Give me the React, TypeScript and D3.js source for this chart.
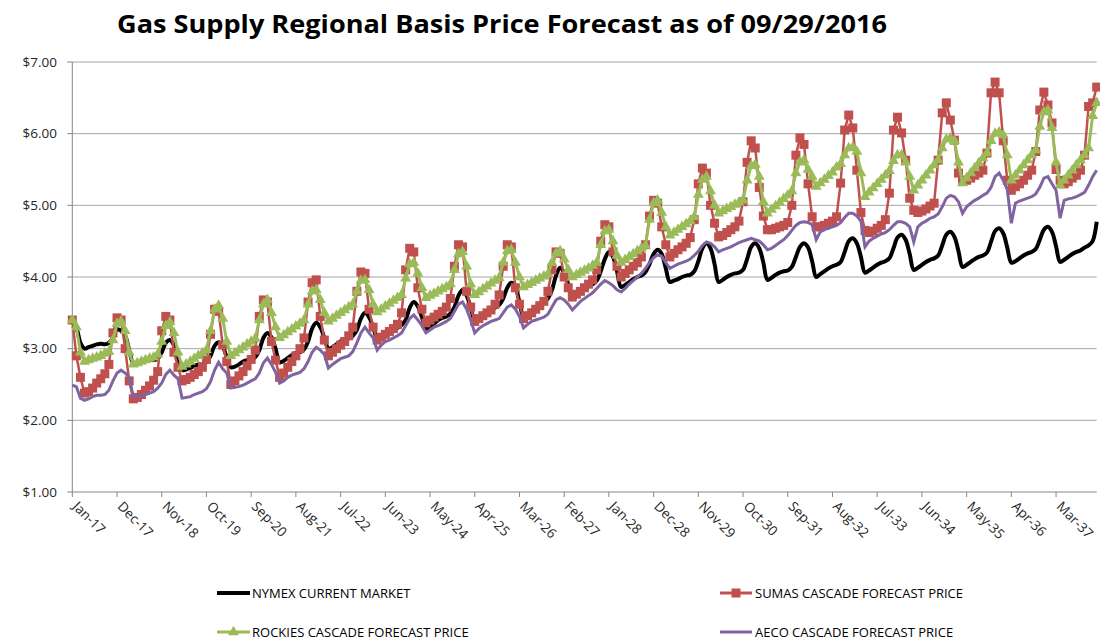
import * as d3 from "d3";

const WIDTH = 1100;
const HEIGHT = 644;
const PLOT = { left: 72.3, right: 1096.7, top: 62, bottom: 492 };

// monthly categories Jan-17 .. Jan-38, labelled every 11th month
const months = d3.timeMonth.range(new Date(2017, 0, 1), new Date(2038, 1, 1));
const LABEL_EVERY = 11;
const yTicks = [1, 2, 3, 4, 5, 6, 7];

// NYMEX current market, one row per year (Jan..Dec)
const nymex = [
  3.32, 3.28, 3.08, 3.0, 3.02, 3.04, 3.06, 3.07, 3.06, 3.08, 3.15, 3.27,
  3.25, 3.18, 2.98, 2.8, 2.8, 2.82, 2.84, 2.85, 2.84, 2.86, 2.95, 3.08,
  3.12, 3.05, 2.88, 2.7, 2.71, 2.73, 2.76, 2.78, 2.78, 2.81, 2.9, 3.04,
  3.09, 3.03, 2.88, 2.74, 2.75, 2.78, 2.82, 2.84, 2.84, 2.88, 2.98, 3.15,
  3.22, 3.16, 3.0, 2.81, 2.83, 2.87, 2.91, 2.94, 2.95, 2.99, 3.1, 3.28,
  3.36, 3.3, 3.15, 3.0, 3.02, 3.06, 3.1, 3.13, 3.14, 3.18, 3.26, 3.42,
  3.5, 3.44, 3.3, 3.15, 3.17, 3.21, 3.25, 3.28, 3.29, 3.33, 3.4, 3.57,
  3.65, 3.59, 3.44, 3.28, 3.31, 3.35, 3.4, 3.43, 3.45, 3.49, 3.58, 3.74,
  3.82, 3.74, 3.58, 3.4, 3.43, 3.47, 3.52, 3.55, 3.57, 3.61, 3.7, 3.85,
  3.92, 3.86, 3.65, 3.45, 3.48, 3.53, 3.58, 3.62, 3.65, 3.7, 3.82, 4.02,
  4.13, 4.06, 3.9, 3.72, 3.75, 3.8, 3.85, 3.88, 3.9, 3.95, 4.08, 4.25,
  4.35, 4.28, 4.08, 3.86, 3.89, 3.93, 3.97, 4.0, 4.02, 4.07, 4.18, 4.32,
  4.38, 4.32, 4.12, 3.93, 3.95, 3.97, 4.0, 4.02, 4.03, 4.08, 4.22, 4.4,
  4.47, 4.4, 4.18, 3.93, 3.96, 4.0, 4.03, 4.05, 4.06, 4.1, 4.25, 4.42,
  4.47, 4.4, 4.2, 3.96, 3.99, 4.03, 4.06, 4.08, 4.09, 4.14, 4.28, 4.42,
  4.47, 4.41, 4.22, 4.0, 4.04, 4.08, 4.12, 4.15, 4.17, 4.21, 4.35, 4.5,
  4.54, 4.47, 4.28, 4.06, 4.09, 4.13, 4.17, 4.2, 4.22, 4.26, 4.4, 4.55,
  4.59, 4.52, 4.32, 4.1, 4.13, 4.17, 4.21, 4.24, 4.26, 4.3, 4.44, 4.59,
  4.63, 4.56, 4.36, 4.14, 4.17, 4.21, 4.25, 4.28, 4.3, 4.34, 4.49, 4.64,
  4.68, 4.61, 4.41, 4.2, 4.22, 4.26, 4.3, 4.33, 4.35, 4.39, 4.52, 4.66,
  4.7, 4.63, 4.43, 4.21, 4.24, 4.28, 4.32, 4.35, 4.37, 4.41, 4.44, 4.5,
  4.77,
];

// SUMAS cascade forecast price
const sumas = [
  3.4, 2.9, 2.6, 2.38, 2.4, 2.45, 2.52, 2.58, 2.65, 2.78, 3.22, 3.43,
  3.4, 3.0, 2.55, 2.3, 2.32, 2.36, 2.42, 2.48, 2.56, 2.68, 3.25, 3.45,
  3.4, 2.95, 2.74, 2.55, 2.57, 2.6, 2.64, 2.68, 2.74, 2.85, 3.2, 3.55,
  3.52, 3.05, 2.82, 2.5, 2.55, 2.62, 2.68, 2.76, 2.85, 2.98, 3.45, 3.68,
  3.65, 3.1, 2.84, 2.6, 2.66, 2.74, 2.82, 2.9, 3.0, 3.15, 3.65, 3.92,
  3.96, 3.45, 3.12, 2.9, 2.95, 3.0, 3.05, 3.1, 3.18, 3.3, 3.8, 4.07,
  4.05, 3.55, 3.3, 3.12, 3.16, 3.2, 3.24, 3.28, 3.34, 3.5, 4.1, 4.4,
  4.35, 3.85, 3.55, 3.36, 3.4, 3.44, 3.48, 3.52, 3.58, 3.7, 4.15, 4.45,
  4.42, 3.8, 3.58, 3.38, 3.42, 3.46, 3.5, 3.54, 3.62, 3.75, 4.15, 4.45,
  4.42, 3.85, 3.62, 3.42, 3.46, 3.5, 3.55, 3.6, 3.66, 3.8, 4.1, 4.35,
  4.33, 4.0, 3.85, 3.72, 3.76, 3.8, 3.85, 3.9, 3.96, 4.1, 4.5, 4.73,
  4.7, 4.35, 4.15, 4.0, 4.05, 4.1, 4.15, 4.2, 4.28, 4.45, 4.85, 5.07,
  5.03, 4.7, 4.45, 4.28, 4.33, 4.38, 4.42, 4.47, 4.55, 4.8, 5.3, 5.52,
  5.45, 5.0, 4.75, 4.56, 4.58, 4.62, 4.66, 4.7, 4.78, 5.05, 5.6, 5.9,
  5.8, 5.25, 4.85, 4.66, 4.66, 4.68, 4.7, 4.72, 4.76, 5.0, 5.7, 5.94,
  5.85, 5.3, 4.84, 4.7, 4.7, 4.72, 4.75, 4.78, 4.84, 5.31, 6.05, 6.26,
  6.08, 5.49, 4.9, 4.65, 4.62, 4.64, 4.68, 4.72, 4.8, 5.17, 6.05, 6.23,
  6.01, 5.63, 5.1, 4.93, 4.9, 4.92, 4.95, 4.99, 5.03, 5.63, 6.29, 6.43,
  6.19, 5.91, 5.45, 5.35, 5.35, 5.38, 5.42, 5.45, 5.49, 5.73, 6.57, 6.72,
  6.57, 5.9, 5.35, 5.21, 5.26, 5.3, 5.35, 5.42, 5.49, 5.75, 6.33, 6.58,
  6.4, 6.15, 5.5, 5.35, 5.3, 5.33, 5.38, 5.42, 5.49, 5.7, 6.38, 6.43,
  6.65,
];

// ROCKIES cascade forecast price
const rockies = [
  3.4, 3.3, 2.95, 2.82, 2.84, 2.86, 2.88, 2.9, 2.93, 2.96, 3.12, 3.35,
  3.38, 3.25, 2.95, 2.78, 2.8, 2.82, 2.84, 2.86, 2.88, 2.92, 3.1, 3.32,
  3.37, 3.22, 2.95, 2.75, 2.78, 2.82, 2.86, 2.9, 2.94, 2.98, 3.25, 3.55,
  3.6, 3.42, 3.1, 2.9, 2.94, 2.98, 3.02, 3.06, 3.1, 3.14, 3.4, 3.62,
  3.68, 3.5, 3.3, 3.15, 3.19, 3.23, 3.27, 3.31, 3.35, 3.4, 3.62, 3.8,
  3.82, 3.68, 3.5, 3.38, 3.42, 3.46, 3.5, 3.54, 3.58, 3.62, 3.8, 3.95,
  3.96, 3.82, 3.62, 3.51, 3.55, 3.59, 3.63, 3.67, 3.71, 3.75, 3.98, 4.18,
  4.2, 4.05, 3.85, 3.71, 3.74, 3.77, 3.8, 3.83, 3.86, 3.9, 4.1, 4.32,
  4.35, 4.15, 3.9, 3.75, 3.79, 3.83, 3.87, 3.91, 3.95, 3.99, 4.2, 4.36,
  4.38, 4.2, 4.0, 3.86, 3.89, 3.92, 3.95, 3.98, 4.01, 4.04, 4.2, 4.33,
  4.36, 4.25, 4.1, 4.0, 4.03, 4.06, 4.09, 4.12, 4.16, 4.2, 4.45, 4.64,
  4.66, 4.5, 4.3, 4.2, 4.24, 4.28, 4.32, 4.36, 4.4, 4.44, 4.8, 5.03,
  5.07, 4.9, 4.7, 4.58, 4.62, 4.66, 4.7, 4.74, 4.78, 4.84, 5.15, 5.36,
  5.4, 5.2, 5.0, 4.89, 4.92, 4.95, 4.98, 5.01, 5.04, 5.07, 5.35, 5.55,
  5.57, 5.4, 5.05, 4.89, 4.94, 4.99, 5.04, 5.09, 5.14, 5.2, 5.45, 5.6,
  5.63, 5.5, 5.4, 5.26, 5.31, 5.36, 5.41, 5.46, 5.53, 5.58, 5.7, 5.8,
  5.81, 5.75, 5.45, 5.12, 5.18, 5.24, 5.3, 5.36, 5.42, 5.48, 5.62, 5.7,
  5.7, 5.6, 5.4, 5.21, 5.28, 5.35, 5.42, 5.49, 5.56, 5.63, 5.8, 5.92,
  5.94, 5.9, 5.6, 5.31, 5.38, 5.45, 5.52, 5.59, 5.66, 5.73, 5.9, 6.0,
  6.02, 5.98, 5.7, 5.35, 5.42, 5.49, 5.56, 5.63, 5.7, 5.77, 6.1, 6.3,
  6.33, 6.08, 5.6, 5.28, 5.35, 5.42, 5.49, 5.56, 5.63, 5.7, 5.8, 6.25,
  6.43,
];

// AECO cascade forecast price
const aeco = [
  2.49, 2.47, 2.31, 2.28, 2.3, 2.33, 2.35, 2.35, 2.36, 2.42, 2.55, 2.66,
  2.7, 2.66, 2.6, 2.33, 2.33, 2.34, 2.36, 2.38, 2.4, 2.45, 2.52, 2.64,
  2.7, 2.63, 2.58, 2.31, 2.32, 2.33, 2.36, 2.38, 2.4, 2.44, 2.54, 2.7,
  2.81, 2.72, 2.66, 2.45, 2.46, 2.47, 2.49, 2.52, 2.55, 2.58, 2.66, 2.8,
  2.87, 2.78, 2.67, 2.52, 2.55, 2.6, 2.63, 2.65, 2.67, 2.72, 2.82, 2.95,
  3.02, 2.98, 2.92, 2.73, 2.78, 2.82, 2.86, 2.88, 2.9, 2.96, 3.08, 3.22,
  3.3, 3.22, 3.15, 2.98, 3.05, 3.1, 3.12, 3.15, 3.18, 3.22, 3.32, 3.42,
  3.47, 3.4, 3.32, 3.22, 3.26, 3.3, 3.32, 3.35, 3.38, 3.42, 3.52, 3.62,
  3.65, 3.55, 3.4, 3.22, 3.28, 3.32, 3.35, 3.38, 3.4, 3.42, 3.5, 3.58,
  3.61, 3.55, 3.45, 3.29, 3.34, 3.38, 3.4, 3.42, 3.44, 3.48, 3.58, 3.68,
  3.71, 3.68, 3.62, 3.54, 3.6, 3.66, 3.7, 3.74, 3.78, 3.84, 3.9, 3.95,
  3.92, 3.88, 3.82, 3.79, 3.84, 3.9, 3.95, 4.0, 4.05, 4.12, 4.2, 4.27,
  4.31, 4.29, 4.2, 4.12, 4.15, 4.18, 4.2, 4.22, 4.25, 4.3, 4.36, 4.44,
  4.49, 4.47, 4.42, 4.35, 4.38, 4.4, 4.42, 4.45, 4.48, 4.5, 4.52, 4.54,
  4.52, 4.5, 4.45, 4.38, 4.4, 4.44, 4.48, 4.52, 4.58, 4.65, 4.72, 4.76,
  4.77, 4.76, 4.73, 4.52, 4.63, 4.66, 4.68, 4.7, 4.72, 4.76, 4.83, 4.89,
  4.89, 4.85, 4.78, 4.42, 4.5, 4.54, 4.57, 4.6, 4.62, 4.66, 4.72, 4.77,
  4.77, 4.75, 4.7, 4.49, 4.7, 4.75, 4.78, 4.82, 4.84, 4.88, 4.98, 5.1,
  5.14, 5.12, 5.05, 4.89, 4.98, 5.03, 5.07, 5.1, 5.14, 5.17, 5.25, 5.4,
  5.45, 5.35, 5.22, 4.75, 5.03, 5.06, 5.08, 5.1, 5.12, 5.16, 5.25, 5.38,
  5.4, 5.3, 5.21, 4.82, 5.07, 5.09, 5.1, 5.12, 5.15, 5.18, 5.28, 5.4,
  5.49,
];

const FONT = "'Open Sans', 'Liberation Sans', sans-serif";

const App = () => {
  const x = d3.scaleLinear().domain([0, months.length - 1]).range([PLOT.left, PLOT.right]);
  const y = d3.scaleLinear().domain([1, 7]).range([PLOT.bottom, PLOT.top]);
  const fmtMonth = d3.timeFormat("%b-%y");
  const fmtPrice = (v: number) => "$" + d3.format(".2f")(v);

  const line = d3
    .line<number>()
    .x((_, i) => x(i))
    .y((d) => y(d));
  // NYMEX is a smoothed line in the original
  const smooth = d3
    .line<number>()
    .x((_, i) => x(i))
    .y((d) => y(d))
    .curve(d3.curveCatmullRom);

  const tickIdx = d3.range(0, months.length, LABEL_EVERY);
  const tri = d3.symbol(d3.symbolTriangle, 52)() || "";

  return (
    <svg
      width={WIDTH}
      height={HEIGHT}
      style={{ position: "absolute", left: 0, top: 0, background: "#fff" }}
      fontFamily={FONT}
    >
      <text
        x={117}
        y={33}
        fontSize={25}
        fontWeight="bold"
        textLength={770}
        lengthAdjust="spacingAndGlyphs"
        fill="#000"
      >
        Gas Supply Regional Basis Price Forecast as of 09/29/2016
      </text>

      {/* gridlines and y axis */}
      {yTicks.map((t) => (
        <g key={t}>
          {t > 1 && (
            <line x1={PLOT.left} x2={PLOT.right} y1={y(t)} y2={y(t)} stroke="#a6a6a6" strokeWidth={1} />
          )}
          <line x1={PLOT.left - 5} x2={PLOT.left} y1={y(t)} y2={y(t)} stroke="#868686" />
          <text x={57} y={y(t)} dy="0.35em" textAnchor="end" fontSize={13.5} fill="#262626">
            {fmtPrice(t)}
          </text>
        </g>
      ))}
      <line x1={PLOT.left} x2={PLOT.left} y1={PLOT.top} y2={PLOT.bottom} stroke="#868686" />
      <line x1={PLOT.left} x2={PLOT.right} y1={PLOT.bottom} y2={PLOT.bottom} stroke="#868686" />

      {/* x axis ticks and rotated labels */}
      {tickIdx.map((i) => (
        <g key={i}>
          <line x1={x(i)} x2={x(i)} y1={PLOT.bottom} y2={PLOT.bottom + 5} stroke="#868686" />
          <text
            transform={`translate(${x(i) + 3},${PLOT.bottom + 12}) rotate(45)`}
            fontSize={13.5}
            dy="0.35em"
            fill="#262626"
          >
            {fmtMonth(months[i])}
          </text>
        </g>
      ))}

      {/* series, Excel order */}
      <path d={smooth(nymex) || undefined} fill="none" stroke="#000" strokeWidth={4} strokeLinejoin="round" />

      <path d={line(sumas) || undefined} fill="none" stroke="#c0504d" strokeWidth={2.5} />
      {sumas.map((d, i) => (
        <rect key={i} x={x(i) - 4.5} y={y(d) - 4.5} width={9} height={9} fill="#c0504d" />
      ))}

      <path d={line(rockies) || undefined} fill="none" stroke="#9bbb59" strokeWidth={3} />
      {rockies.map((d, i) => (
        <path key={i} d={tri} transform={`translate(${x(i)},${y(d)})`} fill="#9bbb59" />
      ))}

      <path d={line(aeco) || undefined} fill="none" stroke="#8064a2" strokeWidth={3} />

      {/* legend */}
      <g fontSize={13} fill="#000">
        <line x1={217} x2={250} y1={593} y2={593} stroke="#000" strokeWidth={4} />
        <text x={252} y={593} dy="0.35em">NYMEX CURRENT MARKET</text>

        <line x1={720} x2={752} y1={593} y2={593} stroke="#c0504d" strokeWidth={3} />
        <rect x={731.5} y={588.5} width={9} height={9} fill="#c0504d" />
        <text x={755} y={593} dy="0.35em">SUMAS CASCADE FORECAST PRICE</text>

        <line x1={217} x2={250} y1={632} y2={632} stroke="#9bbb59" strokeWidth={3} />
        <path d={tri} transform="translate(233.5,632)" fill="#9bbb59" />
        <text x={252} y={632} dy="0.35em">ROCKIES CASCADE FORECAST PRICE</text>

        <line x1={720} x2={752} y1={632} y2={632} stroke="#8064a2" strokeWidth={3} />
        <text x={755} y={632} dy="0.35em">AECO CASCADE FORECAST PRICE</text>
      </g>
    </svg>
  );
};

export default App;
